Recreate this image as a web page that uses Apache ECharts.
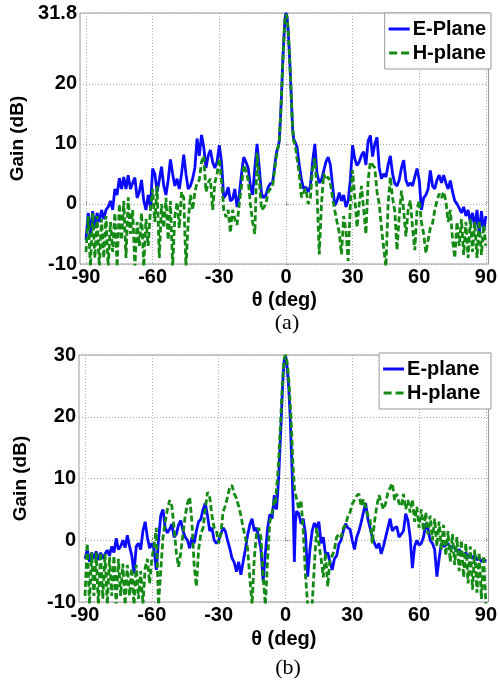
<!DOCTYPE html>
<html>
<head>
<meta charset="utf-8">
<script src="https://cdn.jsdelivr.net/npm/echarts@6/dist/echarts.min.js"></script>
<style>
html,body{margin:0;padding:0;background:#fff;}
#chart{width:500px;height:681px;}
</style>
</head>
<body>
<div id="chart"></div>
<script>
// ---- tick labels ----
const xTicks = [-90, -60, -30, 0, 30, 60, 90];
const yTicksA = [-10, 0, 10, 20, 31.8];
const yTicksB = [-10, 0, 10, 20, 30];

// ---- sampling grid of theta (deg): 1 deg steps outside, 0.5 deg steps across the main beam ----
const thetaLeft = [];   // -90 .. -5
for (let t = -90; t <= -5; t++) thetaLeft.push(t);
const thetaMid = [];    // -4.5 .. 4.5
for (let k = -9; k <= 9; k++) thetaMid.push(k / 2);
const thetaRight = [];  // 5 .. 90
for (let t = 5; t <= 90; t++) thetaRight.push(t);
const theta = thetaLeft.concat(thetaMid, thetaRight);

// ---- (a) E-Plane gain (dB) ----
const aE_left = [
  -6, -1.5, -5, -1.2, -4, -1.5, -3, -1, -2.5, -1,
  -0.5, 0.5, -1, 2.5, 1.5, 4.3, 2.5, 4.5, 2.5, 4.8,
  2.5, 3.5, 4.4, 1, 2, 4, 0.5, -1, 1.5, -0.5,
  5.9, 5, 2, 4, 6.2, 3, 1.5, 4, 7.4, 5,
  3, 4.2, 2.5, 5, 8.2, 5, 2.5, 3, 4.2, 6,
  10.9, 8, 11.5, 9.5, 6, 8, 9, 7, 6, 7,
  9.8, 7, 1, 1.5, 2.8, 0.5, 0.8, 2.5, -0.5, 1.5,
  5, 7.8, 7, 6, 3, 1.5, 6, 10, 6, 1.7,
  1, 1.5, 2.8, 3.4, 3.5, 6.5
];
const aE_mid = [8, 9, 9.5, 10.5, 14, 18, 23, 27, 30.5, 31.8, 31.2, 29, 25.5, 21.5, 17, 12.5, 10.8, 10.5, 10];
const aE_right = [
  9.5, 6.5, 4, 2.5, 2.8, 2, 3, 7, 10, 5,
  3.5, 4, 5.5, 7, 7.8, 6.5, 3, -0.3, 0.5, 1.9,
  0.5, 1.5, -0.5, 0.5, 4, 9.8, 7.5, 6.4, 7, 8.1,
  8.7, 6.5, 10.5, 11.4, 7.9, 10, 11.1, 6, 4.2, 5,
  4.5, 6.5, 8, 5, 3.4, 3, 4, 6, 7.3, 4,
  3, 3.5, 3, 4.5, 5.9, 4, -1, 1, 1.5, 2.5,
  5.6, 3, 2.5, 4, 4.8, 3.5, 4.8, 3.5, 2.5, 3.9,
  2, 0.5, 0, -0.7, -1.5, -0.5, -2, -1, -3, -1.5,
  -4, -1, -5, -1.2, -4.5, -2
];

// ---- (a) H-plane gain (dB) ----
const aH_left = [
  -8, -2, -10.5, -1.5, -9, -2, -10.5, -2.5, -9, -2,
  -10.5, -3, -8, -1.5, -10.5, 0, -6, 0.5, -9, 1.1,
  -5, -1, -10.5, -3, -7, -1.5, -10.5, -2.5, -7, -1,
  2.5, -3, 3, -9, 0, -4, 1, -6, 0.5, -10.5,
  -2, 0.3, -4, 2, 1, -10.5, -3, 1.5, -1, 2,
  3.5, 4, 7, 8, 2, 3.5, 4.2, -1, 3.5, 5,
  7.6, 4, -1, -2.2, -1, -4.8, -1, -2.5, -3.5, 0,
  3, 6.5, 5.5, 4, 0, -3, -5, 8.5, 4, -1,
  -0.6, 0, 2, 2.5, 3, 6
];
const aH_mid = [7.5, 8.5, 9.5, 10.5, 14, 18, 23, 27, 30.5, 31.6, 31, 29, 25.5, 21.5, 17, 12.5, 10.5, 10, 9];
const aH_right = [
  7.5, 5, 1.1, 2, 2.5, 0, 1, 6, 7.6, 2,
  -8.4, 0, 5, 4, 4.5, 3.5, 1, -1.1, -3, -4.8,
  -8.4, -2, -4.5, -9.5, 0, 5.6, 1, -3.9, 0, 3,
  -1, -5, 4, 7, 6.5, 6, 2, 0, -4, -7.3,
  -10.5, 0, 4.5, 1, -1.2, -7.7, -2, 2.2, -1, -5.4,
  -1, 0.6, -4, -7.7, -1, 0.6, -3, -5, -8.2, -6,
  -4, -3.2, -1, 0.5, 1.7, 1, 2, 0.5, -3, -1,
  -6, -9, -3, -7, -2.5, -8.5, -3, -9, -2.5, -8,
  -3, -9, -2.8, -8.5, -3.5, -7
];

// ---- (b) E-plane gain (dB) ----
const bE_left = [
  -3, -1.5, -3.5, -2, -3, -1.8, -3.2, -2, -3, -2.2,
  -1.6, -2.5, -1, -2, 0.3, -1.5, -1, 0, -1.2, 0.8,
  -1, -2.5, -5.4, -1, -0.5, -1.5, 1.5, 3, 0.5, -1.3,
  -0.5, -1.5, -4.8, 0, 4, 5, 2, 1.2, 1.8, 2.6,
  0.5, 1, 2.5, 3.2, 1.5, 0.5, 0, -1.3, 0.5, -0.5,
  1.5, 3, 3.4, 5, 6, 4, 1.5, 2, 0, -0.5,
  0, 1, 2, 1.5, 0, -1.3, -2.9, -3.6, -5.1, -3.5,
  -5.6, -3.5, -1.5, 0.8, 2.5, 3.5, 1.5, 2, 0.5, -1.5,
  -6.7, -2, 2, 4.2, 3.5, 7.3
];
const bE_mid = [5.5, 5, 7.5, 10.5, 14.5, 18.5, 23, 27, 29.3, 29.8, 29, 27, 24.5, 21, 16, 11, 5, -3.5, 3];
const bE_right = [
  4.7, 4.3, 2.7, 3.5, 1, -5.9, -1.5, 1.5, 2.8, 2,
  3, -0.5, 0.5, -2.4, -2, -3.5, -4.8, -3, -2.5, -0.6,
  0, 1.5, 2.7, 2, 1.8, 0, -1.5, 0.5, 1.5, 2.9,
  4.5, 6, 3.5, 2, 0.5, -0.5, -1.3, -0.5, -2.2, -1,
  0.5, 2, 3.5, 1.5, 2, 2.2, 0.5, 1, 1.5, 4.3,
  3.2, 0.5, -4.5, -1, 0, -0.8, -0.5, 0.5, 2.7, 1.8,
  0, -0.5, -1.5, -5.9, -3, -0.5, -1, -0.8, -0.5, -1.2,
  -1, -1.3, -1.8, -1.5, -2, -2.5, -2, -2.9, -2.2, -3,
  -2.5, -3.2, -2.8, -3.5, -3, -3.5
];

// ---- (b) H-plane gain (dB) ----
const bH_left = [
  -9, -0.5, -10.5, -2, -9, -2, -10.5, -2, -9.5, -2.2,
  -10.5, -2.7, -9, -2.5, -10.5, -3, -9, -3.8, -10.5, -4,
  -9, -4.5, -10.5, -4, -9.5, -5, -10.5, -4.5, -3, -7,
  -3, -1, 2, -10.5, -5, 0.4, 3, 5, 6.5, 5.5,
  2, -2, -4.3, -2, 1, 4, 6, 7, 3, -4,
  -7.5, -1.5, 1, 2, 5, 7.8, 7, 4, 2, 1.6,
  -0.5, 1, 4.6, 5.6, 7, 8.6, 8.9, 7.5, 6.8, 5.5,
  4, 2, 0.5, -1.3, -6, -10.5, -3, 1, 2, 0.5,
  -6, -10.5, -3, 3, 4.5, 6.5
];
const bH_mid = [6, 8.4, 10.5, 13, 17, 20.5, 24.5, 27.5, 29.5, 30, 29.5, 28, 26, 23, 20, 15.5, 11.5, 8.5, 7.5];
const bH_right = [
  6.7, 5, 6.5, 1.5, -5.7, -10.5, -10.5, -10.5, -4, 2,
  -0.6, -3, -6, -2, -7.5, -3, -2.5, -1.5, 0.5, 1,
  0.5, 2, 2.5, 3.8, 4.5, 5.9, 6.5, 7.2, 7.5, 5.5,
  6.6, 5.4, 4, 3.3, -0.5, 3, 5.5, 7.3, 6.1, 5,
  6, 7.7, 8.5, 9.2, 6.5, 7.5, 6, 5.5, 7.5, 5,
  6.5, 4.5, 6.6, 3, 5.4, 2, 5, 1.5, 4.5, 1,
  4, 0, 3.5, -1, 3, -1.5, 2.5, -2.5, 1.5, -3.5,
  1, -4, 0.5, -5, 0, -6, -0.5, -7, -1, -8,
  -1.5, -8.5, -2, -9.5, -2.5, -10.5
];

const aE = aE_left.concat(aE_mid, aE_right);
const aH = aH_left.concat(aH_mid, aH_right);
const bE = bE_left.concat(bE_mid, bE_right);
const bH = bH_left.concat(bH_mid, bH_right);

function pairs(vals) { return theta.map((t, i) => [t, vals[i]]); }

const FONT = 'Liberation Sans, Arial, sans-serif';
const BLUE = '#0a0aff';
const GREEN = '#138a13';
const ICON_SOLID = 'path://M0,0H21V3H0Z';
const ICON_DASH = 'path://M0,0H8V3H0Z M12,0H20V3H12Z';

function xAxisCfg(gi, nameGap) {
  return {
    type: 'value', gridIndex: gi, min: -92.7, max: 91.2,
    name: 'θ (deg)', nameLocation: 'middle', nameGap: nameGap,
    nameTextStyle: { fontFamily: FONT, fontSize: 20, fontWeight: 'bold', color: '#000' },
    axisLine: { show: false },
    axisTick: { show: true, inside: true, length: 3, customValues: xTicks, lineStyle: { color: '#999' } },
    axisLabel: { customValues: xTicks, margin: 3, fontFamily: FONT, fontSize: 20, fontWeight: 'bold', color: '#000' },
    splitLine: { show: true, lineStyle: { color: '#aaa', type: [1, 2], width: 1 } }
  };
}
function yAxisCfg(gi, min, max, ticks) {
  return {
    type: 'value', gridIndex: gi, min: min, max: max,
    name: 'Gain (dB)', nameLocation: 'middle', nameGap: 49, nameRotate: 90,
    nameTextStyle: { fontFamily: FONT, fontSize: 19, fontWeight: 'bold', color: '#000' },
    axisLine: { show: false },
    axisTick: { show: true, inside: true, length: 3, customValues: ticks, lineStyle: { color: '#999' } },
    axisLabel: { customValues: ticks, margin: 3, fontFamily: FONT, fontSize: 20, fontWeight: 'bold', color: '#000' },
    splitLine: { show: true, lineStyle: { color: '#aaa', type: [1, 2], width: 1 } }
  };
}
function lineSeries(name, vals, xi, color, dashed) {
  return {
    type: 'line', name: name, xAxisIndex: xi, yAxisIndex: xi,
    data: pairs(vals), showSymbol: false, symbol: 'none', smooth: false,
    clip: true, animation: false,
    itemStyle: { color: color },
    lineStyle: { color: color, width: 2.8, type: dashed ? [6, 3] : 'solid' }
  };
}
function legendCfg(top, nameE, nameH) {
  return {
    orient: 'vertical', right: 9, top: top,
    data: [{ name: nameE, icon: ICON_SOLID }, { name: nameH, icon: ICON_DASH }],
    backgroundColor: '#fff', borderColor: '#999', borderWidth: 1,
    padding: [5, 5, 5, 4], itemGap: 2, itemWidth: 21, itemHeight: 3,
    textStyle: { fontFamily: FONT, fontSize: 20, fontWeight: 'bold', color: '#000', lineHeight: 22, padding: [0, 0, 0, -2] },
    selectedMode: false
  };
}

const chart = echarts.init(document.getElementById('chart'), null, { renderer: 'canvas' });
chart.setOption({
  backgroundColor: '#fff',
  animation: false,
  grid: [
    { left: 80, right: 9, top: 13, height: 251, show: true, borderColor: '#999', borderWidth: 1, backgroundColor: '#fff' },
    { left: 79, right: 10, top: 355, height: 247, show: true, borderColor: '#999', borderWidth: 1, backgroundColor: '#fff' }
  ],
  xAxis: [xAxisCfg(0, 26), xAxisCfg(1, 27)],
  yAxis: [yAxisCfg(0, -10, 31.8, yTicksA), yAxisCfg(1, -10, 30, yTicksB)],
  legend: [legendCfg(13, 'E-Plane', 'H-plane'), legendCfg(353, 'E-plane', 'H-plane ')],
  series: [
    lineSeries('E-Plane', aE, 0, BLUE, false),
    lineSeries('H-plane', aH, 0, GREEN, true),
    lineSeries('E-plane', bE, 1, BLUE, false),
    lineSeries('H-plane ', bH, 1, GREEN, true)
  ],
  graphic: [
    { type: 'text', x: 287, y: 323, style: { text: '(a)', fontFamily: 'Liberation Serif, Times New Roman, serif', fontSize: 22, fill: '#000', align: 'center', verticalAlign: 'middle' } },
    { type: 'text', x: 288, y: 668, style: { text: '(b)', fontFamily: 'Liberation Serif, Times New Roman, serif', fontSize: 22, fill: '#000', align: 'center', verticalAlign: 'middle' } }
  ]
});
</script>
</body>
</html>
